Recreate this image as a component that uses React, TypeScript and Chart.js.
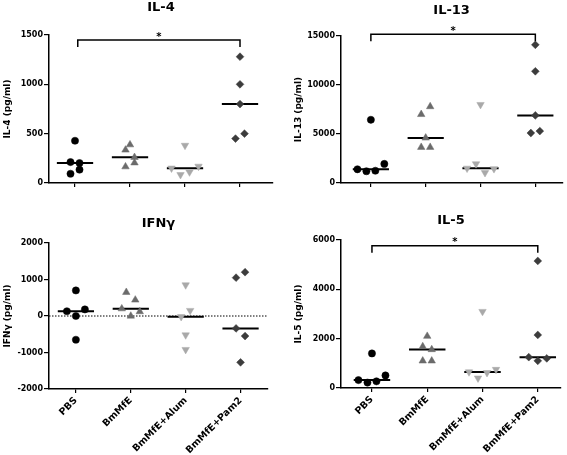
import React, { useEffect, useRef } from 'react';
import { Chart, registerables } from 'chart.js';

Chart.register(...registerables);

// ---------------- data ----------------
const CATEGORIES = ['PBS', 'BmMfE', 'BmMfE+Alum', 'BmMfE+Pam2'];

// IL-4 (pg/ml)
const IL4_PBS = [428, 212, 202, 94, 135];
const IL4_BMMFE = [388, 335, 260, 165, 205];
const IL4_ALUM = [381, 150, 84, 111, 169];
const IL4_PAM2 = [1280, 1000, 800, 450, 500];
const IL4_TICKS = [0, 500, 1000, 1500];

// IL-13 (pg/ml)
const IL13_PBS = [6450, 1400, 1200, 1250, 1950];
const IL13_BMMFE = [7000, 7800, 4600, 3650, 3650];
const IL13_ALUM = [8000, 1500, 1950, 1050, 1450];
const IL13_PAM2 = [14100, 11400, 6900, 5100, 5300];
const IL13_TICKS = [0, 5000, 10000, 15000];

// IFN-gamma (pg/ml)
const IFNG_PBS = [700, 130, 0, 180, -650];
const IFNG_BMMFE = [650, 440, 200, 0, 120];
const IFNG_ALUM = [850, -20, 150, -520, -920];
const IFNG_PAM2 = [1050, 1200, -340, -550, -1270];
const IFNG_TICKS = [-2000, -1000, 0, 1000, 2000];

// IL-5 (pg/ml)
const IL5_PBS = [1400, 320, 220, 270, 510];
const IL5_BMMFE = [2100, 1680, 1560, 1100, 1100];
const IL5_ALUM = [3100, 650, 400, 620, 750];
const IL5_PAM2 = [5150, 2150, 1250, 1100, 1200];
const IL5_TICKS = [0, 2000, 4000, 6000];

// significance brackets: [from category, to category, level]
const IL4_SIG = { from: 1.05, to: 4, level: 1450, label: '*' };
const IL13_SIG = { from: 1, to: 4, level: 15170, label: '*' };
const IL5_SIG = { from: 1, to: 4, level: 5770, label: '*' };

// ---------------- styles ----------------
const FONT = '"DejaVu Sans", "Liberation Sans", Arial, sans-serif';
const MARKERS = [
  { pointStyle: 'circle', color: '#000000', radius: 3.6, rotation: 0 },
  { pointStyle: 'triangle', color: '#6b6b6b', radius: 4.3, rotation: 0 },
  { pointStyle: 'triangle', color: '#a9a9a9', radius: 4.3, rotation: 180 },
  { pointStyle: 'rectRot', color: '#3c3c3c', radius: 3.9, rotation: 0 },
];
const ROW_PX = 9;
const SPREAD_PX = 9;
const MEDIAN_HALF = 0.33;

type Sig = { from: number; to: number; level: number; label: string };
type Panel = {
  title: string;
  yTitle: string;
  groups: number[][];
  ticks: number[];
  canvas: { x: number; y: number; w: number; h: number };
  area: { l: number; r: number; t: number; b: number };
  xMin: number;
  xMax: number;
  showLabels: boolean;
  zeroLine: boolean;
  sig?: Sig;
  titlePad: { top: number; bottom: number };
  yTitlePad: number;
};

const PANELS: Panel[] = [
  {
    title: 'IL-4', yTitle: 'IL-4 (pg/ml)',
    groups: [IL4_PBS, IL4_BMMFE, IL4_ALUM, IL4_PAM2], ticks: IL4_TICKS,
    canvas: { x: 0, y: 0, w: 283, h: 200 }, area: { l: 49, r: 273, t: 35, b: 183 },
    xMin: 0.527, xMax: 4.6, showLabels: false, zeroLine: false, sig: IL4_SIG,
    titlePad: { top: 0, bottom: 19.4 }, yTitlePad: 2,
  },
  {
    title: 'IL-13', yTitle: 'IL-13 (pg/ml)',
    groups: [IL13_PBS, IL13_BMMFE, IL13_ALUM, IL13_PAM2], ticks: IL13_TICKS,
    canvas: { x: 283, y: 0, w: 284, h: 200 }, area: { l: 58, r: 280, t: 36, b: 183 },
    xMin: 0.455, xMax: 4.49, showLabels: false, zeroLine: false, sig: IL13_SIG,
    titlePad: { top: 3.2, bottom: 17.2 }, yTitlePad: 10.6,
  },
  {
    title: 'IFNγ', yTitle: 'IFNγ (pg/ml)',
    groups: [IFNG_PBS, IFNG_BMMFE, IFNG_ALUM, IFNG_PAM2], ticks: IFNG_TICKS,
    canvas: { x: 0, y: 200, w: 283, h: 255 }, area: { l: 49, r: 268, t: 43, b: 189 },
    xMin: 0.51, xMax: 4.5, showLabels: true, zeroLine: true,
    titlePad: { top: 16.2, bottom: 11.2 }, yTitlePad: 2,
  },
  {
    title: 'IL-5', yTitle: 'IL-5 (pg/ml)',
    groups: [IL5_PBS, IL5_BMMFE, IL5_ALUM, IL5_PAM2], ticks: IL5_TICKS,
    canvas: { x: 283, y: 200, w: 284, h: 255 }, area: { l: 58, r: 278, t: 40, b: 188 },
    xMin: 0.44, xMax: 4.42, showLabels: true, zeroLine: false, sig: IL5_SIG,
    titlePad: { top: 12.7, bottom: 11.7 }, yTitlePad: 10.6,
  },
];

function median(v: number[]): number {
  const s = [...v].sort((a, b) => a - b);
  const m = Math.floor(s.length / 2);
  return s.length % 2 ? s[m] : (s[m - 1] + s[m]) / 2;
}

// horizontal spreading of points that share (nearly) the same level
function spread(values: number[], pxPerY: number, pxPerX: number): number[] {
  const order = values.map((_, i) => i).sort((a, b) => values[a] - values[b] || a - b);
  const offs = values.map(() => 0);
  let group: number[] = [];
  const flush = () => {
    const g = [...group].sort((a, b) => a - b);
    g.forEach((k, j) => {
      offs[k] = ((j - (g.length - 1) / 2) * SPREAD_PX) / pxPerX;
    });
    group = [];
  };
  for (const i of order) {
    if (group.length && (values[i] - values[group[0]]) * pxPerY > ROW_PX) flush();
    group.push(i);
  }
  flush();
  return offs;
}

function sigPlugin(sig?: Sig) {
  return {
    id: 'sigBracket',
    afterDatasetsDraw(chart: any) {
      if (!sig) return;
      const { ctx, scales } = chart;
      const x1 = scales.x.getPixelForValue(sig.from);
      const x2 = scales.x.getPixelForValue(sig.to);
      const yy = scales.y.getPixelForValue(sig.level);
      ctx.save();
      ctx.strokeStyle = '#000';
      ctx.lineWidth = 1.5;
      ctx.beginPath();
      ctx.moveTo(x1, yy + 7);
      ctx.lineTo(x1, yy);
      ctx.lineTo(x2, yy);
      ctx.lineTo(x2, yy + 7);
      ctx.stroke();
      ctx.fillStyle = '#000';
      ctx.font = `bold 10px ${FONT}`;
      ctx.textAlign = 'center';
      ctx.textBaseline = 'middle';
      ctx.fillText(sig.label, (x1 + x2) / 2, yy - 3);
      ctx.restore();
    },
  };
}

function DotPlot({ p }: { p: Panel }) {
  const ref = useRef<HTMLCanvasElement>(null);
  useEffect(() => {
    if (!ref.current) return;
    const yMin = p.ticks[0];
    const yMax = p.ticks[p.ticks.length - 1];
    const pxPerY = (p.area.b - p.area.t) / (yMax - yMin);
    const pxPerX = (p.area.r - p.area.l) / (p.xMax - p.xMin);

    const pointSets = p.groups.map((vals, gi) => {
      const offs = spread(vals, pxPerY, pxPerX);
      const m = MARKERS[gi];
      return {
        type: 'scatter',
        label: CATEGORIES[gi],
        data: vals.map((v, k) => ({ x: gi + 1 + offs[k], y: v })),
        pointStyle: m.pointStyle,
        rotation: m.rotation,
        pointRadius: m.radius,
        pointBackgroundColor: m.color,
        pointBorderColor: m.color,
        pointBorderWidth: 0.5,
        showLine: false,
      };
    });
    const medianSets = p.groups.map((vals, gi) => {
      const med = median(vals);
      return {
        type: 'line',
        label: 'median ' + CATEGORIES[gi],
        data: [
          { x: gi + 1 - MEDIAN_HALF, y: med },
          { x: gi + 1 + MEDIAN_HALF, y: med },
        ],
        borderColor: '#000',
        borderWidth: 2,
        pointRadius: 0,
        showLine: true,
        fill: false,
      };
    });
    const extra: any[] = [];
    if (p.zeroLine) {
      extra.push({
        type: 'line',
        label: 'zero',
        data: [
          { x: p.xMin, y: 0 },
          { x: p.xMax, y: 0 },
        ],
        borderColor: '#000',
        borderWidth: 1,
        borderDash: [1.5, 1.5],
        pointRadius: 0,
        showLine: true,
        fill: false,
      });
    }

    const tickFont = { family: FONT, weight: 'bold' as const, size: 8 };
    const chart = new Chart(ref.current, {
      type: 'scatter',
      data: { datasets: [...pointSets, ...medianSets, ...extra] as any },
      options: {
        animation: false,
        responsive: false,
        devicePixelRatio: 1,
        layout: { padding: { left: 0, top: 0, bottom: 0, right: p.canvas.w - p.area.r } },
        plugins: {
          legend: { display: false },
          tooltip: { enabled: false },
          title: {
            display: true,
            text: p.title,
            fullSize: false,
            color: '#000',
            font: { family: FONT, weight: 'bold', size: 13 },
            padding: p.titlePad,
          },
        },
        scales: {
          x: {
            type: 'linear',
            position: 'bottom',
            min: p.xMin,
            max: p.xMax,
            afterBuildTicks: (s: any) => {
              s.ticks = CATEGORIES.map((_, i) => ({ value: i + 1 }));
            },
            afterFit: (s: any) => {
              s.height = p.canvas.h - p.area.b;
            },
            border: { display: true, color: '#000', width: 1.5 },
            grid: {
              display: true,
              drawOnChartArea: false,
              drawTicks: true,
              tickLength: 4,
              color: '#000',
              lineWidth: 1.2,
            },
            ticks: {
              autoSkip: false,
              minRotation: 45,
              maxRotation: 45,
              padding: 2,
              color: '#000',
              font: { family: FONT, weight: 'bold', size: 9.5 },
              callback: (v: any) => (p.showLabels ? CATEGORIES[Math.round(Number(v)) - 1] ?? '' : ''),
            },
          },
          y: {
            type: 'linear',
            position: 'left',
            min: yMin,
            max: yMax,
            afterBuildTicks: (s: any) => {
              s.ticks = p.ticks.map((v) => ({ value: v }));
            },
            afterFit: (s: any) => {
              s.width = p.area.l;
            },
            border: { display: true, color: '#000', width: 1.5 },
            grid: {
              display: true,
              drawOnChartArea: false,
              drawTicks: true,
              tickLength: 5,
              color: '#000',
              lineWidth: 1.2,
            },
            ticks: {
              padding: 1,
              color: '#000',
              font: tickFont,
              callback: (v: any) => String(v),
            },
            title: {
              display: true,
              text: p.yTitle,
              color: '#000',
              font: { family: FONT, weight: 'bold', size: 9 },
              padding: { top: p.yTitlePad, bottom: 0 },
            },
          },
        },
      } as any,
      plugins: [sigPlugin(p.sig)],
    });
    return () => chart.destroy();
  }, [p]);

  return (
    <canvas
      ref={ref}
      width={p.canvas.w}
      height={p.canvas.h}
      style={{
        position: 'absolute',
        left: p.canvas.x,
        top: p.canvas.y,
        width: p.canvas.w,
        height: p.canvas.h,
      }}
    />
  );
}

export default function App() {
  return (
    <div
      style={{
        position: 'absolute',
        left: 0,
        top: 0,
        width: 567,
        height: 455,
        background: '#ffffff',
        overflow: 'hidden',
      }}
    >
      {PANELS.map((p) => (
        <DotPlot key={p.title} p={p} />
      ))}
    </div>
  );
}
